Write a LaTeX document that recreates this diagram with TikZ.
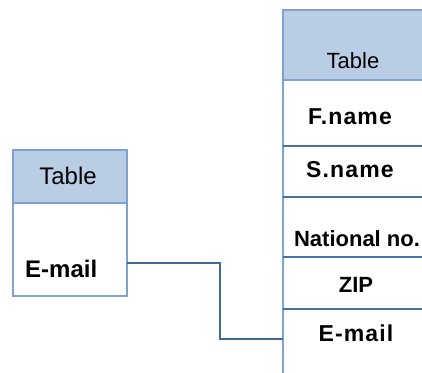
\documentclass[tikz,border=0pt]{standalone}
\usepackage{fontspec}
\setmainfont{Liberation Sans}
\definecolor{headfill}{HTML}{B9CDE5}
\definecolor{frame}{HTML}{7EA3D2}
\definecolor{rule}{HTML}{4A71A5}
\definecolor{link}{HTML}{41689C}
\tikzset{
  cell/.style={draw=frame, line width=1.6pt, inner sep=0pt, outer sep=0pt, anchor=north west},
  head/.style={cell, fill=headfill},
  sep/.style={draw=rule, line width=1.6pt},
  link/.style={draw=link, line width=1.5pt},
  titleL/.style={font=\fontsize{24}{28}\selectfont, anchor=base, inner sep=0pt},
  fieldL/.style={font=\fontsize{24}{28}\selectfont\bfseries, anchor=base west, inner sep=0pt},
  titleR/.style={font=\fontsize{22}{26}\selectfont, anchor=base, inner sep=0pt},
  fieldR/.style={font=\fontsize{22}{26}\selectfont\bfseries, anchor=base, inner sep=0pt},
  wideR/.style={fieldR, font=\fontsize{23}{26}\selectfont\bfseries\addfontfeatures{LetterSpace=5}}
}
\begin{document}
\begin{tikzpicture}[x=1pt, y=-1pt]
  \clip (0,0) rectangle (422,372);
  \fill[white] (0,0) rectangle (422,372);

  % small table on the left
  \node[head, minimum width=114pt, minimum height=53pt] (lhead) at (13,150) {};
  \node[cell, minimum width=114pt, minimum height=93pt] (lbody) at (13,203) {};
  \node[titleL] (ltitle) at (68,184) {Table};
  \node[fieldL] (lmail) at (25,277.5) {E-mail};

  % large table on the right
  \node[head, minimum width=150pt, minimum height=70pt] (rhead) at (283,10) {};
  \node[cell, minimum width=150pt, minimum height=66pt] (rfname) at (283,80) {};
  \node[cell, minimum width=150pt, minimum height=51pt] (rsname) at (283,146) {};
  \node[cell, minimum width=150pt, minimum height=60pt] (rnat) at (283,197) {};
  \node[cell, minimum width=150pt, minimum height=52pt] (rzip) at (283,257) {};
  \node[cell, minimum width=150pt, minimum height=80pt] (rmail) at (283,309) {};

  % darker row rules
  \draw[sep] (rfname.south west) -- (rfname.south east);
  \draw[sep] (rsname.south west) -- (rsname.south east);
  \draw[sep] (rnat.south west) -- (rnat.south east);
  \draw[sep] (rzip.south west) -- (rzip.south east);

  \node[titleR] (rtitle) at (353,68) {Table};
  \node[wideR] (tfname) at (350,124.3) {F.name};
  \node[wideR] (tsname) at (350,177.7) {S.name};
  \node[fieldR] (tnat) at (357,246) {National no.};
  \node[fieldR] (tzip) at (356,292.7) {ZIP};
  \node[wideR] (tmail) at (356,341.7) {E-mail};

  % relation between the two E-mail fields
  \coordinate (lport) at (lbody.east |- 0,263);
  \coordinate (rport) at (rmail.west |- 0,339);
  \draw[link] (lport) -- ++(93,0) |- (rport);
\end{tikzpicture}
\end{document}
